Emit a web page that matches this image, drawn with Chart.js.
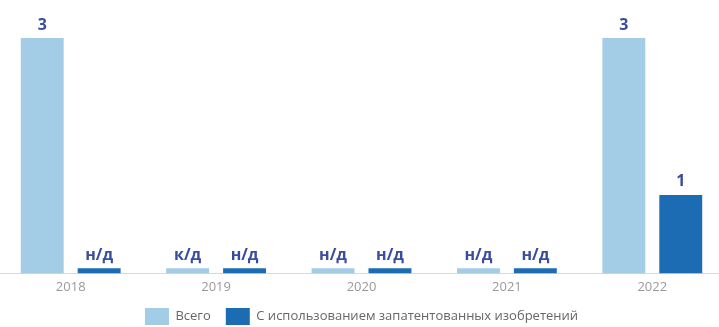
<!DOCTYPE html>
<html>
<head>
<meta charset="utf-8">
<script src="https://cdn.jsdelivr.net/npm/chart.js@4"></script>
<style>
  html, body { margin: 0; padding: 0; background: #fff; overflow: hidden; }
  #wrap { position: relative; left: -2px; width: 727px; height: 327px; }
</style>
</head>
<body>
<div id="wrap"><canvas id="myChart"></canvas></div>
<script>
const years = ['2018', '2019', '2020', '2021', '2022'];
const seriesNames = ['Всего', 'С использованием запатентованных изобретений'];
// null = нет данных
const totalValues = [3, null, null, null, 3];
const patentValues = [null, null, null, null, 1];
const totalLabels = ['3', 'к/д', 'н/д', 'н/д', '3'];
const patentLabels = ['н/д', 'н/д', 'н/д', 'н/д', '1'];
const stubValue = 0.065; // thin bar drawn where no data

const barValues = arr => arr.map(v => v === null ? stubValue : v);

const valueLabels = {
  id: 'valueLabels',
  afterDatasetsDraw(chart) {
    const ctx = chart.ctx;
    const texts = [totalLabels, patentLabels];
    ctx.save();
    ctx.font = 'bold 16px "Open Sans"';
    ctx.fillStyle = '#3a4c9e';
    ctx.textAlign = 'center';
    ctx.textBaseline = 'bottom';
    chart.data.datasets.forEach((ds, i) => {
      chart.getDatasetMeta(i).data.forEach((bar, j) => {
        ctx.fillText(texts[i][j], bar.x, bar.y - 5);
      });
    });
    ctx.restore();
  }
};

let ctx = document.getElementById('myChart');
let myChart = new Chart(ctx, {
  type: 'bar',
  data: {
    labels: years,
    datasets: [{
      label: seriesNames[0],
      backgroundColor: '#a3cde6',
      data: barValues(totalValues)
    }, {
      label: seriesNames[1],
      backgroundColor: '#1b6cb2',
      data: barValues(patentValues)
    }]
  },
  options: {
    responsive: true,
    maintainAspectRatio: false,
    animation: false,
    layout: { padding: { top: 38, bottom: -8 } },
    datasets: {
      bar: { categoryPercentage: 0.783, barPercentage: 0.754 }
    },
    scales: {
      x: {
        grid: { display: false },
        border: { display: true, color: '#d8d8d8', width: 1 },
        ticks: { color: '#9a9a9a', font: { family: 'Open Sans', size: 13 }, padding: -2 }
      },
      y: {
        display: false,
        min: 0,
        max: 3
      }
    },
    plugins: {
      legend: {
        position: 'bottom',
        labels: {
          boxWidth: 24,
          boxHeight: 17,
          padding: 15,
          color: '#666',
          font: { family: 'Open Sans', size: 13 }
        }
      },
      tooltip: { enabled: false }
    }
  },
  plugins: [valueLabels]
});
</script>
</body>
</html>
